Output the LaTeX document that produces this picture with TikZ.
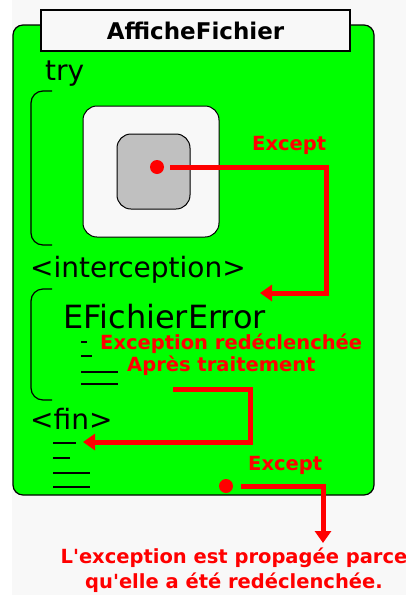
\documentclass[tikz,border=0pt]{standalone}
\usepackage{fontspec}
\setmainfont{DejaVu Sans}[Ligatures=TeXOff]
\usepackage{xcolor}
\usetikzlibrary{positioning,arrows.meta}
\definecolor{vert}{HTML}{00FF00}
\definecolor{fond}{HTML}{F8F8F8}
\definecolor{gris}{HTML}{C0C0C0}
\definecolor{rouge}{HTML}{FF0000}

\begin{document}
\begin{tikzpicture}[
  x=1pt, y=-1pt,
  >={Triangle[length=12pt,width=16pt]},
  titre/.style={draw, line width=1.2pt, fill=fond, minimum width=309pt, minimum height=41pt, font=\bfseries\fontsize{23}{23}\selectfont},
  code/.style={anchor=base west, inner sep=0pt, font=\fontsize{28}{28}\selectfont},
  rge/.style={anchor=base west, inner sep=0pt, text=rouge, font=\bfseries\fontsize{19.5}{25}\selectfont},
  bloc/.style={draw, line width=1pt, rounded corners=14pt},
  point/.style={circle, fill=rouge, inner sep=0pt, minimum size=14pt},
  flux/.style={->, color=rouge, line width=5pt},
  accol/.style={line width=1.2pt, rounded corners=12pt},
  trait/.style={line width=1.5pt},
]
\useasboundingbox (0,0) rectangle (406,595);
\fill[fond] (12,0) rectangle (406,595);
% procedure
\draw[line width=1.2pt, fill=vert, rounded corners=10pt] (13,25) rectangle (374,495);
\node[titre] (titre) at (195.5,30.5) {AfficheFichier};
% bloc try
\node[code] (try) at (45,80) {try};
\draw[accol] (52,91) -- (31,91) -- (31,245) -- (52,245);
\node[bloc, fill=fond, minimum width=136pt, minimum height=131pt] (bloc) at (151,171.5) {};
\node[bloc, fill=gris, minimum width=73pt, minimum height=75pt] (appel) at (153.5,171.5) {};
\node[point] (exc1) at (157,167) {};
\node[rge] (lbl1) at (252,150) {Except};
% interception
\node[code] (interc) at (30,277) {<interception>};
\draw[accol] (52,289) -- (31,289) -- (31,400) -- (52,400);
\node[code, font=\fontsize{32}{32}\selectfont] (efich) at (63,328) {EFichierError};
\node[rge] (redecl) at (100,349) {Exception redéclenchée};
\node[rge] (apres) at (127,371) {Après traitement};
\draw[trait] (81,342) -- (87,342);
\draw[trait] (81,356) -- (92,356);
\draw[trait] (81,372) -- (118,372);
\draw[trait] (81,384) -- (118,384);
% fin
\node[code] (fin) at (30,429) {<fin>};
\draw[trait] (53,443) -- (76,443);
\draw[trait] (53,458) -- (70,458);
\draw[trait] (53,473) -- (90,473);
\draw[trait] (53,487) -- (90,487);
\node[point] (exc2) at (226,486) {};
\node[rge] (lbl2) at (248,470) {Except};
\node[rge, anchor=base, align=center] (propag) at (234,588) {L'exception est propagée parce\\qu'elle a été redéclenchée.};
% fleches
\coordinate (c1) at (326,167);
\coordinate (gest) at (260,293);
\coordinate (sortie) at (173,389);
\coordinate (c2) at (250,389);
\coordinate (fin1) at (83,442);
\coordinate (c3) at (323,486);
\coordinate (bas) at (323,543);
\draw[flux, shorten <=6pt] (exc1) -- (c1) |- (gest);
\draw[flux] (sortie) -- (c2) |- (fin1);
\draw[flux, shorten <=8pt] (exc2) -- (c3) -- (bas);
\end{tikzpicture}
\end{document}
